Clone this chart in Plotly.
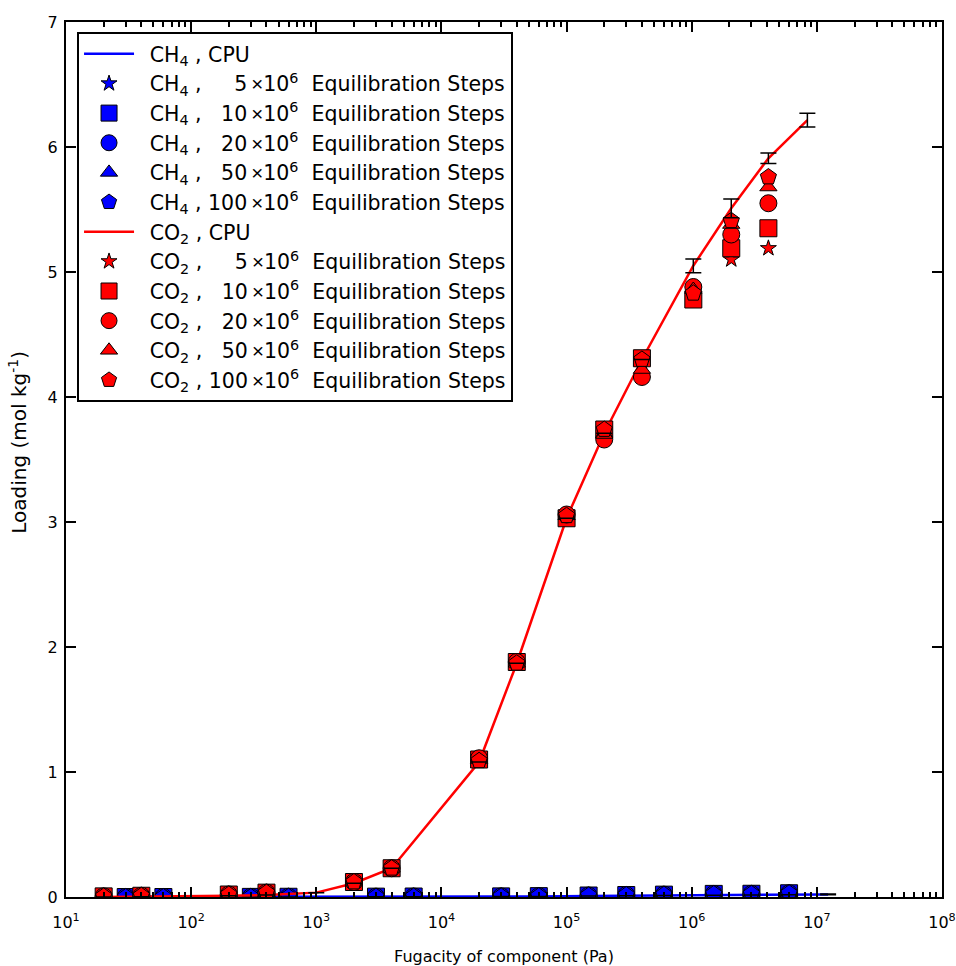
import plotly.graph_objects as go

# ---------------- data ----------------
# CH4 (GPU runs)
ch4_f = [30, 60, 300, 600, 3000, 6000, 3e4, 6e4, 1.5e5, 3e5, 6e5, 1.5e6, 3e6, 6e6]
ch4_5 = [0.0, 0.0, 0.001, 0.002, 0.003, 0.004, 0.005, 0.007, 0.011, 0.015, 0.018, 0.024, 0.026, 0.029]
ch4_10 = [0.0, 0.0, 0.001, 0.002, 0.003, 0.004, 0.005, 0.007, 0.012, 0.016, 0.019, 0.025, 0.026, 0.030]
ch4_20 = [0.0, 0.0, 0.001, 0.002, 0.003, 0.004, 0.005, 0.007, 0.012, 0.016, 0.019, 0.024, 0.025, 0.030]
ch4_50 = [0.0, 0.0, 0.001, 0.002, 0.003, 0.004, 0.005, 0.007, 0.012, 0.016, 0.019, 0.024, 0.025, 0.030]
ch4_100 = [0.0, 0.0, 0.001, 0.002, 0.003, 0.004, 0.005, 0.007, 0.012, 0.016, 0.019, 0.024, 0.025, 0.030]
# CH4 (CPU reference)
ch4_cpu_f = [30, 60, 300, 600, 3000, 6000, 3e4, 6e4, 1.5e5, 3e5, 6e5, 1.5e6, 3e6, 6e6, 1.23e7]
ch4_cpu = [0.0, 0.0, 0.001, 0.001, 0.002, 0.003, 0.004, 0.005, 0.008, 0.010, 0.012, 0.015, 0.017, 0.019, 0.021]
ch4_cpu_err = [None] * 14 + [0.003]

# CO2 (GPU runs)
co2_f = [20, 40, 200, 400, 2000, 4000, 2e4, 4e4, 1e5, 2e5, 4e5, 1.03e6, 2.07e6, 4.1e6]
co2_5 = [0.005, 0.01, 0.02, 0.035, 0.12, 0.23, 1.09, 1.87, 3.04, 3.72, 4.28, 4.81, 5.10, 5.19]
co2_10 = [0.005, 0.01, 0.02, 0.035, 0.12, 0.23, 1.10, 1.88, 3.03, 3.74, 4.31, 4.78, 5.19, 5.35]
co2_20 = [0.005, 0.01, 0.02, 0.035, 0.12, 0.23, 1.11, 1.88, 3.06, 3.66, 4.16, 4.88, 5.30, 5.55]
co2_50 = [0.005, 0.01, 0.02, 0.035, 0.12, 0.23, 1.10, 1.87, 3.05, 3.70, 4.22, 4.86, 5.38, 5.68]
co2_100 = [0.005, 0.01, 0.02, 0.035, 0.12, 0.23, 1.09, 1.87, 3.05, 3.74, 4.30, 4.83, 5.41, 5.76]
# CO2 (CPU reference)
co2_cpu_f = [20, 40, 200, 400, 1000, 2000, 4000, 2e4, 4e4, 1e5, 2e5, 4e5, 1.03e6, 2.07e6, 4.1e6, 8.4e6]
co2_cpu = [0.001, 0.002, 0.01, 0.016, 0.035, 0.11, 0.23, 1.08, 1.87, 3.03, 3.71, 4.30, 5.05, 5.51, 5.91, 6.215]
co2_cpu_err = [None] * 12 + [0.055, 0.075, 0.042, 0.055]

steps = [5, 10, 20, 50, 100]
symbols = ["star", "square", "circle", "triangle-up", "pentagon"]
sizes = [12, 17, 17, 15, 17]

x_decades = [1, 2, 3, 4, 5, 6, 7, 8]
y_ticks = [0, 1, 2, 3, 4, 5, 6, 7]

x_title = "Fugacity of component (Pa)"
y_title = "Loading (mol kg<sup>-1</sup>)"

# ---------------- figure ----------------
NB = "\u00a0"
LEAD = NB + "\u2009"
FONT = "DejaVu Sans, Liberation Sans, Arial, sans-serif"
TIMES = '<span style="font-family:Liberation Sans">\u2009×</span>'


def step_label(species, n):
    pad = NB * (2 * (3 - len(str(n))))
    return f"{LEAD}{species}{NB},{NB}{pad}{n}{TIMES}10<sup>6</sup>{NB}{NB}Equilibration Steps"


fig = go.Figure()


def add_species(name, cpu_f, cpu_y, cpu_err, f, runs, color):
    fig.add_trace(go.Scatter(
        x=cpu_f, y=cpu_y, mode="lines", name=f"{LEAD}{name}{NB},{NB}CPU",
        line=dict(color=color, width=2.5),
    ))
    for n, sym, sz, vals in zip(steps, symbols, sizes, runs):
        fig.add_trace(go.Scatter(
            x=f, y=vals, mode="markers", name=step_label(name, n),
            marker=dict(symbol=sym, size=sz, color=color,
                        line=dict(color="black", width=1)),
        ))
    fig.add_trace(go.Scatter(
        x=cpu_f, y=cpu_y, mode="markers", showlegend=False, hoverinfo="skip",
        marker=dict(size=1, color="rgba(0,0,0,0)"),
        error_y=dict(type="data", array=cpu_err, visible=True,
                     color="black", thickness=1.5, width=8),
    ))


add_species("CH<sub>4</sub>", ch4_cpu_f, ch4_cpu, ch4_cpu_err, ch4_f,
            [ch4_5, ch4_10, ch4_20, ch4_50, ch4_100], "#0000ff")
add_species("CO<sub>2</sub>", co2_cpu_f, co2_cpu, co2_cpu_err, co2_f,
            [co2_5, co2_10, co2_20, co2_50, co2_100], "#ff0000")

major_vals = [10 ** d for d in x_decades]
major_text = [f"10<sup>{d}</sup>" for d in x_decades]
minor_vals = [k * 10 ** d for d in x_decades[:-1] for k in range(2, 10)]

fig.update_layout(
    width=956, height=966,
    margin=dict(l=66, r=14, t=22, b=69, autoexpand=False),
    paper_bgcolor="white", plot_bgcolor="white",
    font=dict(family=FONT, size=16, color="black"),
    legend=dict(
        x=0.0126, y=0.9886, xanchor="left", yanchor="top",
        bgcolor="white", bordercolor="black", borderwidth=2,
        font=dict(family=FONT, size=20.5, color="black"),
        itemwidth=50, tracegroupgap=0, traceorder="normal",
    ),
    annotations=[dict(
        text=y_title, textangle=-90, xref="paper", yref="paper",
        x=-0.055, y=0.52, xanchor="center", yanchor="middle",
        showarrow=False, font=dict(family=FONT, size=20, color="black"),
    )],
)
fig.update_xaxes(
    type="log", range=[1, 8], automargin=False,
    tickmode="array", tickvals=major_vals, ticktext=major_text,
    ticks="inside", ticklen=10, tickwidth=1.5, tickcolor="black",
    minor=dict(tickmode="array", tickvals=minor_vals, ticks="inside",
               ticklen=5, tickwidth=1.5, tickcolor="black", showgrid=False),
    showline=True, linewidth=2, linecolor="black", mirror="ticks",
    showgrid=False, zeroline=False,
    tickfont=dict(size=16), ticklabelstandoff=10,
    title=dict(text=x_title, font=dict(size=16), standoff=20),
)
fig.update_yaxes(
    range=[0, 7], automargin=False, tickmode="array", tickvals=y_ticks,
    ticks="inside", ticklen=10, tickwidth=1.5, tickcolor="black",
    showline=True, linewidth=2, linecolor="black", mirror="ticks",
    showgrid=False, zeroline=False,
    tickfont=dict(size=16), ticklabelstandoff=3,
)

fig.write_html("out.html")
